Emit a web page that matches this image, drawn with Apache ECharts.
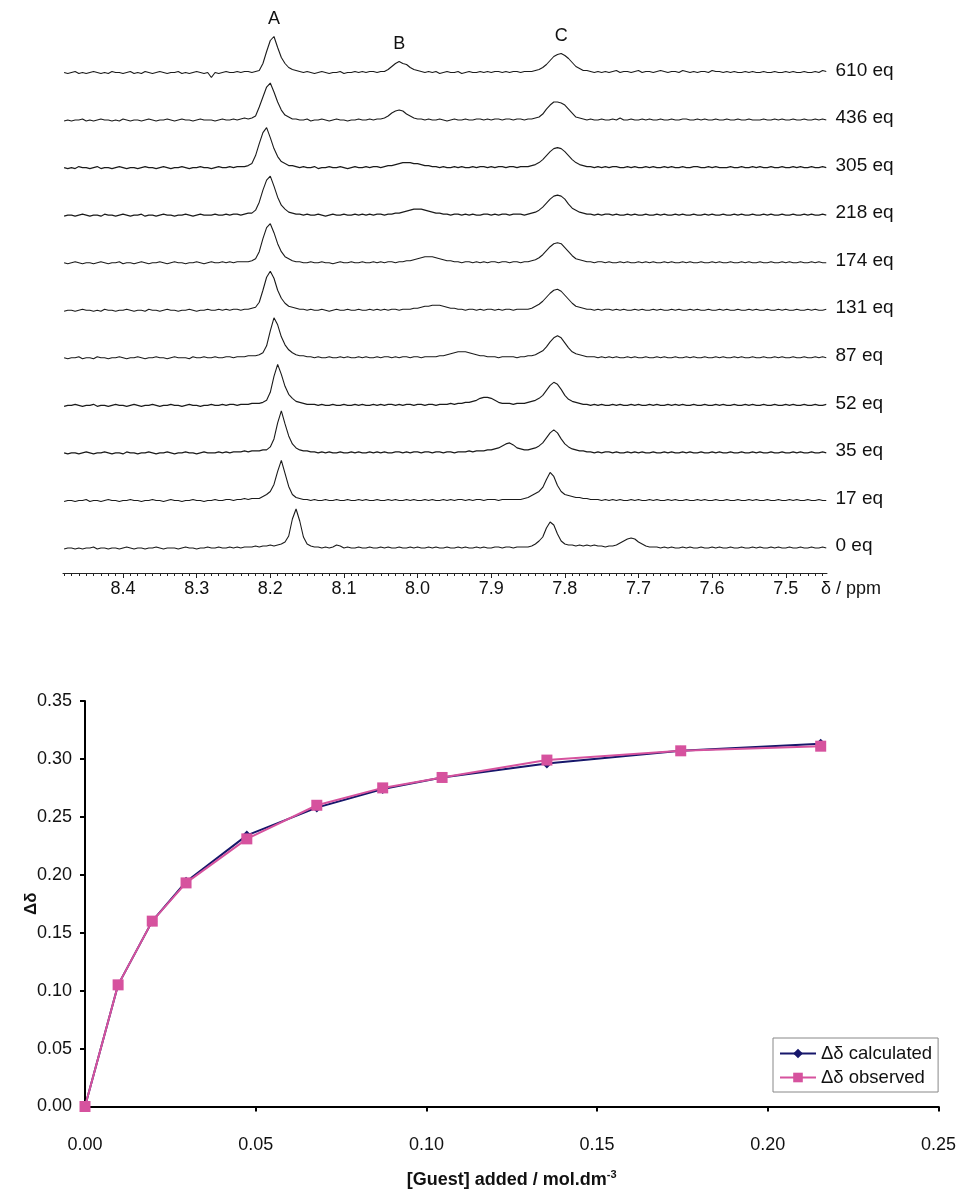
<!DOCTYPE html>
<html>
<head>
<meta charset="utf-8">
<script src="https://cdn.jsdelivr.net/npm/echarts@6/dist/echarts.min.js"></script>
<style>
html, body { margin: 0; padding: 0; background: #fff; }
#main { width: 959px; height: 1190px; }
</style>
</head>
<body>
<div id="main"></div>
<script>
// --- NMR stack: intensity (px above each baseline), one value every 0.005 ppm from 8.480 down to 7.445
const ppmStart = 8.48;
const ppmStep = 0.005;
const traceNames = ['610 eq', '436 eq', '305 eq', '218 eq', '174 eq', '131 eq', '87 eq', '52 eq', '35 eq', '17 eq', '0 eq'];

const t610 = [
  1,0,1,2,0,1,0,1,2,1,0,1,0,2,1,1,0,1,2,0,
  1,0,2,1,0,1,2,1,0,1,1,2,0,1,0,1,2,1,0,1,
  -4,1,0,1,2,1,1,2,1,2,2,1,2,3,10,22,33,37,26,16,
  10,6,4,3,2,1,2,1,0,1,2,1,0,1,1,2,0,1,1,2,
  1,2,1,2,2,1,2,2,4,7,10,12,10,9,6,4,3,2,1,2,
  1,2,0,1,2,1,1,2,0,1,2,1,1,2,1,2,1,2,2,1,
  2,1,2,2,1,2,2,2,3,4,6,9,13,17,19,20,18,15,11,7,
  5,3,3,2,1,2,1,2,1,2,3,1,2,2,1,2,3,1,2,2,
  1,2,3,2,1,2,2,1,3,2,1,2,1,2,2,1,3,2,2,1,
  2,1,2,1,1,2,1,2,1,1,2,1,1,2,1,1,2,1,2,1,
  1,2,1,1,2,1,3,2
];
const t436 = [
  0,1,0,1,1,2,0,1,0,1,2,1,1,0,1,0,2,1,0,1,
  1,0,1,2,1,0,1,1,2,1,0,1,2,1,1,0,1,2,1,1,
  1,0,1,2,1,1,2,1,2,3,2,3,5,14,24,34,38,29,19,11,
  6,4,2,2,1,1,2,0,1,1,2,1,0,1,2,1,1,0,1,1,
  2,1,1,2,1,2,2,3,5,8,10,11,10,7,5,3,2,2,1,2,
  1,1,2,1,0,1,2,1,1,2,1,1,2,2,1,2,1,2,2,1,
  2,2,1,2,2,1,2,2,3,4,7,12,16,19,19,18,16,12,8,4,
  3,2,1,2,1,1,2,1,1,2,1,3,1,1,2,1,1,2,1,2,
  1,1,2,1,1,2,1,1,2,2,1,1,2,1,2,1,1,2,1,1,
  2,1,1,2,1,1,2,1,1,1,2,1,1,2,1,2,1,1,2,1,
  1,2,1,1,2,1,2,1
];
const t305 = [
  1,0,1,0,2,1,1,0,1,2,0,1,1,0,1,2,1,0,1,1,
  0,1,2,1,1,0,1,2,1,0,1,1,2,1,0,1,1,2,1,1,
  0,1,2,1,1,2,1,2,2,2,3,5,13,25,36,41,31,20,12,7,
  5,3,3,2,1,2,1,1,2,0,1,1,2,1,1,2,1,0,1,2,
  1,1,2,1,2,2,1,2,3,3,4,5,6,6,6,5,5,4,3,3,
  2,2,1,2,1,1,2,1,2,1,1,2,1,2,2,1,2,1,2,2,
  1,2,2,1,2,2,2,3,4,6,9,13,17,20,21,20,17,13,9,6,
  4,3,2,2,1,2,1,2,1,2,2,1,1,2,1,2,1,1,2,1,
  2,1,1,2,1,2,1,1,2,1,1,2,2,1,1,2,1,2,1,1,
  1,2,1,1,2,1,1,2,1,2,1,1,2,1,1,2,1,1,2,1,
  2,1,1,2,1,1,2,1
];
const t218 = [
  0,1,1,0,1,2,1,0,1,1,0,2,1,1,0,1,2,1,0,1,
  1,2,0,1,1,0,1,2,1,1,0,1,1,2,1,0,1,2,1,1,
  1,2,1,1,2,1,2,2,1,2,3,3,6,14,26,36,40,30,19,11,
  7,4,3,2,2,1,2,1,1,2,1,0,1,2,1,1,2,1,1,2,
  1,2,1,2,1,2,2,1,2,2,3,3,4,5,6,7,7,7,6,5,
  4,3,3,2,2,1,2,2,1,2,1,2,1,1,2,2,1,2,1,2,
  2,1,2,2,2,1,2,3,4,6,9,13,17,20,21,20,17,12,8,6,
  4,3,2,2,1,2,1,2,2,1,2,1,1,2,1,2,1,1,2,1,
  1,2,1,2,1,1,2,1,2,1,1,2,1,1,2,1,2,1,1,2,
  1,1,2,1,2,1,1,2,1,1,2,1,2,1,1,2,1,1,2,1,
  1,2,1,2,1,1,2,1
];
const t174 = [
  1,0,1,2,1,0,1,1,0,1,2,1,0,1,1,2,0,1,1,0,
  1,2,1,0,1,1,2,1,0,1,2,1,1,0,1,1,2,1,0,1,
  2,1,1,2,1,2,1,2,2,2,2,3,5,12,25,36,40,31,20,12,
  7,5,3,2,2,1,1,2,1,1,2,1,1,0,1,2,1,1,2,1,
  1,2,1,1,2,1,2,1,2,2,1,2,2,3,3,4,5,6,7,7,
  7,6,5,4,3,3,2,2,1,2,2,1,2,1,2,1,2,2,1,2,
  2,1,2,2,1,2,2,3,4,6,9,13,17,20,21,20,16,12,8,5,
  4,3,2,2,1,2,2,1,2,1,1,2,1,2,1,1,2,1,2,1,
  2,1,1,2,1,2,1,1,2,1,2,1,1,2,1,1,2,1,2,1,
  1,2,1,1,2,1,2,1,1,2,1,1,2,1,1,2,1,2,1,1,
  2,1,1,2,1,2,1,1
];
const t131 = [
  0,1,1,0,1,2,1,1,0,1,0,2,1,1,0,1,1,2,1,0,
  1,1,0,2,1,1,0,1,2,1,1,0,1,1,2,1,0,1,1,2,
  1,1,2,1,2,1,2,2,1,2,2,3,4,9,21,34,40,33,21,13,
  8,5,4,3,2,2,1,2,1,1,2,1,0,1,2,1,1,2,1,1,
  2,1,1,2,1,2,1,2,1,2,2,1,2,2,2,3,3,4,5,5,
  6,6,6,5,4,3,3,2,2,1,2,2,1,2,1,2,2,1,2,1,
  2,2,1,2,2,2,2,3,5,7,10,14,18,21,22,20,16,12,8,5,
  4,3,2,2,1,2,1,2,2,1,2,1,2,1,1,2,1,2,1,1,
  2,1,2,1,1,2,1,2,1,1,2,1,2,1,1,2,1,1,2,1,
  2,1,1,2,1,1,2,1,2,1,1,2,1,1,2,1,2,1,1,2,
  1,1,2,1,2,1,1,2
];
const t87 = [
  1,0,1,1,2,0,1,1,0,2,1,1,0,1,1,2,1,0,1,1,
  2,1,0,1,1,2,1,1,0,1,2,1,1,1,0,2,1,1,2,1,
  1,2,1,1,2,2,1,2,2,2,3,3,3,4,6,13,28,41,34,22,
  14,9,6,4,3,3,2,2,1,2,1,1,2,1,1,2,1,2,1,1,
  2,1,2,1,1,2,1,2,2,1,2,1,2,2,1,2,2,1,2,2,
  2,2,3,3,4,5,6,7,7,7,6,5,4,3,3,2,2,2,1,2,
  2,2,2,1,2,2,3,3,4,6,8,12,17,21,23,21,16,11,7,5,
  4,3,2,2,2,1,2,1,2,1,2,1,1,2,1,2,1,1,2,1,
  1,2,1,2,1,1,2,1,1,2,1,2,1,1,2,1,1,2,1,2,
  1,1,2,1,2,1,1,2,1,1,2,1,1,2,1,2,1,1,2,1,
  1,2,1,1,2,1,2,1
];
const t52 = [
  0,1,1,2,1,0,1,1,2,0,1,1,0,1,2,1,1,0,1,2,
  1,0,1,1,2,1,0,1,1,2,1,1,0,1,2,1,1,0,1,1,
  2,1,1,2,1,2,2,1,2,2,2,3,3,3,4,6,14,30,42,32,
  20,12,8,5,4,3,2,2,2,1,2,1,1,2,1,1,2,1,1,2,
  1,2,1,1,2,1,2,1,2,2,1,2,1,2,2,1,2,2,1,2,
  2,1,2,2,2,3,2,3,3,4,4,5,6,8,9,9,8,6,4,3,
  3,3,2,3,3,3,4,5,6,8,11,16,21,24,22,17,11,7,5,4,
  3,2,2,1,2,1,2,1,1,2,1,2,1,1,2,1,2,1,1,2,
  1,2,1,1,2,1,2,1,2,1,1,2,1,1,2,1,1,2,1,2,
  1,1,2,1,1,2,1,2,1,1,2,1,1,2,1,1,2,1,2,1,
  1,2,1,1,2,1,1,2
];
const t35 = [
  1,0,1,1,0,1,2,1,0,1,1,2,1,0,1,1,0,2,1,1,
  0,1,1,2,1,0,1,1,2,1,0,1,1,2,1,1,0,1,2,1,
  1,1,2,1,2,1,2,2,2,3,2,3,3,3,4,4,7,15,31,43,
  30,18,10,6,4,3,3,2,2,1,2,1,2,1,1,2,1,1,2,1,
  2,1,1,2,1,2,1,2,1,1,2,2,1,2,1,2,2,1,2,2,
  1,2,2,1,2,2,1,2,2,2,3,2,3,3,3,4,4,5,6,8,
  10,11,9,6,5,4,4,5,6,8,11,16,21,24,21,15,10,7,5,4,
  3,3,2,2,1,2,1,2,2,1,2,1,1,2,1,2,1,2,1,1,
  2,1,1,2,1,2,1,1,2,1,2,1,1,2,1,1,2,1,2,1,
  1,2,1,1,2,1,1,2,1,2,1,1,2,1,1,2,1,1,2,1,
  2,1,1,2,1,1,2,1
];
const t17 = [
  0,1,1,0,1,1,2,0,1,1,0,1,2,1,1,0,1,1,2,1,
  1,0,1,1,2,1,1,0,1,2,1,1,0,1,1,2,1,1,0,1,
  1,2,1,1,2,2,1,2,2,3,2,3,3,3,5,7,10,17,30,41,
  28,15,7,4,3,2,2,1,2,1,1,2,1,1,2,1,1,2,1,1,
  2,1,2,1,1,2,1,1,2,1,2,1,1,2,1,2,1,1,2,1,
  2,1,1,2,1,2,1,2,2,1,2,1,2,2,1,2,2,2,1,2,
  2,2,2,2,2,3,4,6,8,10,14,22,29,25,16,10,7,6,5,4,
  4,3,3,2,2,2,1,2,1,2,1,2,1,1,2,1,2,1,1,2,
  1,2,1,1,2,1,2,1,1,2,1,1,2,1,2,1,1,2,1,1,
  2,1,1,2,1,1,2,1,2,1,1,2,1,1,2,1,1,2,1,2,
  1,1,2,1,1,2,1,1
];
const t0 = [
  0,1,1,0,1,0,1,1,2,0,1,1,0,1,1,0,1,2,1,0,
  1,1,0,1,1,2,1,0,1,1,1,0,1,2,1,1,0,1,1,2,
  1,1,2,1,1,2,1,2,1,2,2,2,3,2,3,3,4,3,4,5,
  7,13,30,40,28,12,5,3,2,2,1,2,1,2,4,3,1,2,1,1,
  2,1,1,2,1,1,2,1,2,1,1,2,1,1,2,1,2,1,1,2,
  1,2,1,1,2,1,1,2,1,2,1,1,2,1,2,1,1,2,2,1,
  2,2,1,2,2,2,2,3,5,8,12,21,27,24,15,8,5,4,4,3,
  4,3,4,3,4,3,3,2,3,3,4,6,8,10,11,10,7,5,3,2,
  2,2,1,2,1,2,1,1,2,1,2,1,1,2,1,1,2,1,2,1,
  1,2,1,1,2,1,1,2,1,2,1,1,2,1,2,1,1,2,1,1,
  2,1,1,2,1,1,2,1
];

const ppmTicks = [8.4, 8.3, 8.2, 8.1, 8.0, 7.9, 7.8, 7.7, 7.6, 7.5];
// peak letters over the 610 eq trace: [label, ppm, height]
const peakLabels = [['A', 8.195, 37], ['B', 8.025, 12], ['C', 7.805, 20]];

// --- titration curve
const guestConc = [0, 0.0097, 0.0197, 0.0296, 0.0474, 0.0679, 0.0872, 0.1046, 0.1353, 0.1745, 0.2155];
const ddCalc = [0, 0.105, 0.160, 0.194, 0.234, 0.258, 0.274, 0.284, 0.296, 0.307, 0.313];
const ddObs = [0, 0.105, 0.160, 0.193, 0.231, 0.260, 0.275, 0.284, 0.299, 0.307, 0.311];

const traces = [t610, t436, t305, t218, t174, t131, t87, t52, t35, t17, t0];
if (traces.some(t => t.length !== 208)) {
  throw new Error('trace length ' + traces.map(t => t.length).join(','));
}

const font = 'Liberation Sans';
const myChart = echarts.init(document.getElementById('main'));

const grid = [], xAxis = [], yAxis = [], series = [];
const xMin = 7.444, xMax = 8.4815;

traces.forEach((vals, k) => {
  const base = 73.5 + 47.55 * k;
  grid.push({ left: 63, width: 764, top: base - 46, height: 50 });
  xAxis.push({ type: 'value', gridIndex: k, min: xMin, max: xMax, inverse: true, show: false });
  yAxis.push({ type: 'value', gridIndex: k, min: -4, max: 46, show: false });

  // trace name at the right end, plus the peak letters over the top trace
  const marks = [{
    name: traceNames[k],
    coord: [xMin, 0],
    label: { position: 'right', distance: 8, offset: [0, -3], fontSize: 19 }
  }];
  if (k === 0) {
    peakLabels.forEach(p => marks.push({
      name: p[0], coord: [p[1], p[2]],
      label: { position: 'inside', offset: [0, -17], fontSize: 18 }
    }));
  }
  series.push({
    type: 'line',
    name: traceNames[k],
    xAxisIndex: k,
    yAxisIndex: k,
    data: vals.map((v, i) => [ppmStart - i * ppmStep, v]),
    showSymbol: false,
    symbol: 'none',
    lineStyle: { color: '#1a1a1a', width: 1.1 },
    silent: true,
    markPoint: {
      symbol: 'circle',
      symbolSize: 1,
      silent: true,
      itemStyle: { color: 'rgba(0,0,0,0)' },
      label: { show: true, formatter: '{b}', color: '#111', fontFamily: font },
      data: marks
    }
  });
});

// ppm axis (major ticks + labels) and its minor ticks
const minorTicks = [];
for (let v = 745; v <= 848; v++) minorTicks.push(v / 100);

grid.push({ left: 63, width: 764, top: 553, height: 20 });
grid.push({ left: 63, width: 764, top: 553, height: 20 });
xAxis.push({
  type: 'value', gridIndex: 11, min: xMin, max: xMax, inverse: true,
  axisLine: { lineStyle: { color: '#222', width: 1 } },
  axisTick: { customValues: ppmTicks, length: 5, lineStyle: { color: '#222' } },
  axisLabel: { customValues: ppmTicks, formatter: v => v.toFixed(1), margin: 7, color: '#111', fontSize: 18, fontFamily: font },
  splitLine: { show: false }
});
xAxis.push({
  type: 'value', gridIndex: 12, min: xMin, max: xMax, inverse: true,
  axisLine: { show: false },
  axisTick: { customValues: minorTicks, length: 3, lineStyle: { color: '#222' } },
  axisLabel: { show: false },
  splitLine: { show: false }
});
yAxis.push({ type: 'value', gridIndex: 11, show: false });
yAxis.push({ type: 'value', gridIndex: 12, show: false });

// titration plot
grid.push({ left: 85, width: 854, top: 701, height: 416 });
xAxis.push({
  type: 'value', gridIndex: 13, min: 0, max: 0.25, interval: 0.05,
  name: '{a|[Guest] added / mol.dm}{s|-3}',
  nameLocation: 'middle', nameGap: 63,
  nameMoveOverlap: false,
  nameTextStyle: {
    rich: {
      a: { fontSize: 18, fontWeight: 'bold', color: '#111', fontFamily: font },
      s: { fontSize: 11, fontWeight: 'bold', color: '#111', fontFamily: font, padding: [0, 0, 10, 0] }
    }
  },
  axisLine: { lineStyle: { color: '#000', width: 2 } },
  axisTick: { length: 5, lineStyle: { color: '#000', width: 2 } },
  axisLabel: { formatter: v => v.toFixed(2), margin: 30, color: '#111', fontSize: 18, fontFamily: font },
  splitLine: { show: false }
});
yAxis.push({
  type: 'value', gridIndex: 13, min: 0, max: 0.35, interval: 0.05,
  name: 'Δδ', nameLocation: 'middle', nameGap: 45,
  nameMoveOverlap: false,
  nameTextStyle: { fontSize: 17, fontWeight: 'bold', color: '#111', fontFamily: font },
  axisLine: { show: true, lineStyle: { color: '#000', width: 2 } },
  axisTick: { show: true, length: 5, lineStyle: { color: '#000', width: 2 } },
  axisLabel: { formatter: v => v.toFixed(2), margin: 13, color: '#111', fontSize: 18, fontFamily: font },
  splitLine: { show: false }
});

series.push({
  type: 'line', name: 'Δδ calculated', xAxisIndex: 13, yAxisIndex: 13,
  data: guestConc.map((x, i) => [x, ddCalc[i]]),
  symbol: 'diamond', symbolSize: 10,
  lineStyle: { color: '#17176b', width: 2 },
  itemStyle: { color: '#17176b' }
});
series.push({
  type: 'line', name: 'Δδ observed', xAxisIndex: 13, yAxisIndex: 13,
  data: guestConc.map((x, i) => [x, ddObs[i]]),
  symbol: 'rect', symbolSize: 11,
  lineStyle: { color: '#d6529e', width: 2 },
  itemStyle: { color: '#d6529e' }
});

const option = {
  animation: false,
  backgroundColor: '#fff',
  textStyle: { fontFamily: font },
  grid: grid,
  xAxis: xAxis,
  yAxis: yAxis,
  legend: {
    data: ['Δδ calculated', 'Δδ observed'],
    orient: 'vertical',
    left: 773, top: 1038,
    borderColor: '#888', borderWidth: 1,
    padding: [6, 6, 5, 6],
    itemWidth: 36, itemHeight: 12, itemGap: 5,
    textStyle: { fontSize: 18.5, color: '#111', fontFamily: font }
  },
  graphic: [
    { type: 'text', left: 821, top: 580, style: { text: 'δ / ppm', fontSize: 18, fontFamily: font, fill: '#111' } }
  ],
  series: series
};
myChart.setOption(option);
</script>
</body>
</html>
